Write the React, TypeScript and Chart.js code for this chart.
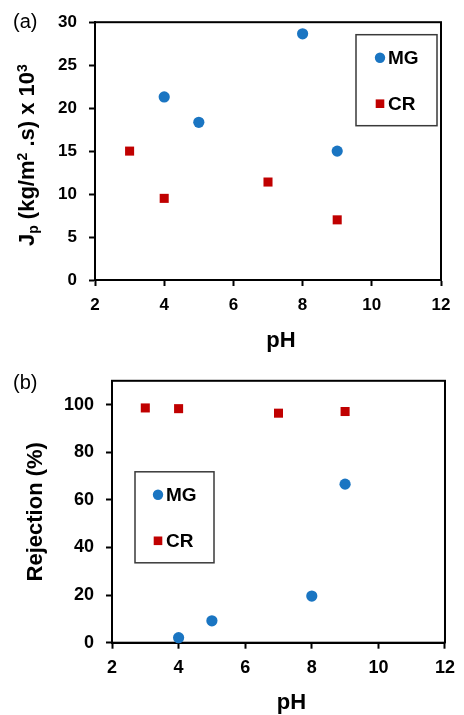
import React, { useEffect, useRef } from "react";
import { Chart, registerables } from "chart.js";

Chart.register(...registerables);

const FONT = '"Liberation Sans", Arial, Helvetica, sans-serif';

// ---- Data: panel (a) permeate flux ----
const phMG_A = [4, 5, 8, 9];
const fluxMG = [21.3, 18.35, 28.65, 15.0];
const phCR_A = [3, 4, 7, 9];
const fluxCR = [15.0, 9.5, 11.4, 7.0];

// ---- Data: panel (b) rejection ----
const phMG_B = [4, 5, 8, 9];
const rejMG = [2.1, 9.2, 19.6, 66.6];
const phCR_B = [3, 4, 7, 9];
const rejCR = [98.6, 98.3, 96.4, 97.1];

// ---- Axis ticks / labels ----
const xTicks = [2, 4, 6, 8, 10, 12];
const yTicksA = [0, 5, 10, 15, 20, 25, 30];
const yTicksB = [0, 20, 40, 60, 80, 100];
const seriesNames = ["MG", "CR"];
const xTitle = "pH";
const yTitleB = "Rejection (%)";
const panelLabels = ["(a)", "(b)"];

const MG_COLOR = "#1a75c2";
const CR_COLOR = "#c00000";

type Piece = { t: string; size: number; dy?: number };

const yTitleA: Piece[] = [
  { t: "J", size: 22 },
  { t: "p", size: 14, dy: 4 },
  { t: " (kg/m", size: 22 },
  { t: "2", size: 14, dy: -7.5 },
  { t: " .s) x 10", size: 22 },
  { t: "3", size: 14, dy: -7.5 },
];

function drawRich(ctx: CanvasRenderingContext2D, pieces: Piece[], baseX: number, cy: number) {
  ctx.save();
  ctx.translate(baseX, cy);
  ctx.rotate(-Math.PI / 2);
  ctx.fillStyle = "#000";
  ctx.textBaseline = "alphabetic";
  ctx.textAlign = "left";
  let total = 0;
  const widths = pieces.map((p) => {
    ctx.font = `bold ${p.size}px ${FONT}`;
    const w = ctx.measureText(p.t).width;
    total += w;
    return w;
  });
  let x = -total / 2;
  pieces.forEach((p, i) => {
    ctx.font = `bold ${p.size}px ${FONT}`;
    ctx.fillText(p.t, x, p.dy || 0);
    x += widths[i];
  });
  ctx.restore();
}

type PanelCfg = {
  height: number;
  padding: { top: number; right: number; left: number; bottom: number };
  yWidth: number;
  xHeight: number;
  yMax: number;
  yTicks: number[];
  tickFont: number;
  tickPadY: number;
  tickPadX: number;
  xTitleBase: number;
  xTitleDx: number;
  yTitle: Piece[];
  yTitleX: number;
  yTitleDy: number;
  legend: { dx: number; dy: number; w: number; h: number; mx: number; r1: number; r2: number; tx: number };
  label: string;
  labelY: number;
  mg: { x: number[]; y: number[] };
  cr: { x: number[]; y: number[] };
};

const panelA: PanelCfg = {
  height: 358,
  padding: { top: 21.5, right: 23, left: 0, bottom: 0 },
  yWidth: 95,
  xHeight: 78,
  yMax: 30,
  yTicks: yTicksA,
  tickFont: 17,
  tickPadY: 12,
  tickPadX: 9,
  xTitleBase: 347,
  xTitleDx: 13,
  yTitle: yTitleA,
  yTitleX: 34,
  yTitleDy: 4,
  legend: { dx: 261, dy: 12.5, w: 81, h: 91, mx: 24, r1: 23, r2: 69, tx: 32 },
  label: panelLabels[0],
  labelY: 22,
  mg: { x: phMG_A, y: fluxMG },
  cr: { x: phCR_A, y: fluxCR },
};

const panelB: PanelCfg = {
  height: 357,
  padding: { top: 22, right: 12, left: 0, bottom: 0 },
  yWidth: 112,
  xHeight: 72.3,
  yMax: 110,
  yTicks: yTicksB,
  tickFont: 18,
  tickPadY: 12,
  tickPadX: 9,
  xTitleBase: 351,
  xTitleDx: 13,
  yTitle: [{ t: yTitleB, size: 22 }],
  yTitleX: 42,
  yTitleDy: 0,
  legend: { dx: 23, dy: 91, w: 79, h: 91, mx: 23, r1: 23, r2: 69, tx: 31 },
  label: panelLabels[1],
  labelY: 25,
  mg: { x: phMG_B, y: rejMG },
  cr: { x: phCR_B, y: rejCR },
};

function makeDecor(cfg: PanelCfg) {
  return {
    id: "decor",
    beforeDatasetsDraw(chart: any) {
      const { ctx, chartArea: ca } = chart;
      ctx.save();
      ctx.strokeStyle = "#000";
      ctx.lineWidth = 2;
      ctx.strokeRect(ca.left, ca.top, ca.right - ca.left, ca.bottom - ca.top);
      ctx.restore();
    },
    afterDraw(chart: any) {
      const { ctx, chartArea: ca } = chart;
      // panel label
      ctx.save();
      ctx.fillStyle = "#000";
      ctx.font = `normal 20px ${FONT}`;
      ctx.textBaseline = "middle";
      ctx.textAlign = "left";
      ctx.fillText(cfg.label, 13, cfg.labelY);
      // x title
      ctx.font = `bold 22px ${FONT}`;
      ctx.textBaseline = "alphabetic";
      ctx.textAlign = "center";
      ctx.fillText(xTitle, (ca.left + ca.right) / 2 + cfg.xTitleDx, cfg.xTitleBase);
      ctx.restore();
      // y title
      drawRich(ctx, cfg.yTitle, cfg.yTitleX, (ca.top + ca.bottom) / 2 + cfg.yTitleDy);
      // legend box
      const L = cfg.legend;
      const bx = ca.left + L.dx;
      const by = ca.top + L.dy;
      ctx.save();
      ctx.fillStyle = "#fff";
      ctx.fillRect(bx, by, L.w, L.h);
      ctx.strokeStyle = "#3a3a3a";
      ctx.lineWidth = 1.5;
      ctx.strokeRect(bx, by, L.w, L.h);
      const rows = [L.r1, L.r2];
      chart.data.datasets.forEach((ds: any, i: number) => {
        const cx = bx + L.mx;
        const cy = by + rows[i];
        ctx.fillStyle = ds.backgroundColor;
        if (ds.pointStyle === "circle") {
          ctx.beginPath();
          ctx.arc(cx, cy, 5.2, 0, Math.PI * 2);
          ctx.fill();
        } else {
          ctx.fillRect(cx - 4.3, cy - 4.3, 8.6, 8.6);
        }
        ctx.fillStyle = "#000";
        ctx.font = `bold 19px ${FONT}`;
        ctx.textBaseline = "middle";
        ctx.textAlign = "left";
        ctx.fillText(ds.label, bx + L.tx, cy + 1);
      });
      ctx.restore();
    },
  };
}

function Panel({ cfg }: { cfg: PanelCfg }) {
  const ref = useRef<HTMLCanvasElement>(null);
  useEffect(() => {
    if (!ref.current) return;
    const tickFont = { family: FONT, size: cfg.tickFont, weight: "bold" as const };
    const chart = new Chart(ref.current, {
      type: "scatter",
      data: {
        datasets: [
          {
            label: seriesNames[0],
            data: cfg.mg.x.map((x, i) => ({ x, y: cfg.mg.y[i] })),
            pointStyle: "circle",
            pointRadius: 5.6,
            pointHoverRadius: 5.6,
            backgroundColor: MG_COLOR,
            borderColor: MG_COLOR,
            borderWidth: 0,
            clip: false as any,
          },
          {
            label: seriesNames[1],
            data: cfg.cr.x.map((x, i) => ({ x, y: cfg.cr.y[i] })),
            pointStyle: "rect",
            pointRadius: 6.4,
            pointHoverRadius: 6.4,
            backgroundColor: CR_COLOR,
            borderColor: CR_COLOR,
            borderWidth: 0,
            clip: false as any,
          },
        ],
      },
      options: {
        responsive: false,
        animation: false,
        devicePixelRatio: 1,
        layout: { padding: cfg.padding },
        plugins: { legend: { display: false }, tooltip: { enabled: false } },
        scales: {
          x: {
            type: "linear",
            min: 2,
            max: 12,
            afterFit: (s: any) => {
              s.height = cfg.xHeight;
            },
            afterBuildTicks: (s: any) => {
              s.ticks = xTicks.map((v) => ({ value: v }));
            },
            ticks: { font: tickFont, color: "#000", padding: cfg.tickPadX, maxRotation: 0 },
            grid: { display: true, drawOnChartArea: false, drawTicks: true, tickLength: 6, tickColor: "#000", tickWidth: 2 },
            border: { display: true, color: "#000", width: 2 },
          },
          y: {
            type: "linear",
            min: 0,
            max: cfg.yMax,
            afterFit: (s: any) => {
              s.width = cfg.yWidth;
            },
            afterBuildTicks: (s: any) => {
              s.ticks = cfg.yTicks.map((v) => ({ value: v }));
            },
            ticks: { font: tickFont, color: "#000", padding: cfg.tickPadY },
            grid: { display: true, drawOnChartArea: false, drawTicks: true, tickLength: 6, tickColor: "#000", tickWidth: 2 },
            border: { display: true, color: "#000", width: 2 },
          },
        },
      },
      plugins: [makeDecor(cfg)],
    });
    return () => chart.destroy();
  }, [cfg]);
  return (
    <canvas
      ref={ref}
      width={464}
      height={cfg.height}
      style={{ display: "block", width: 464, height: cfg.height }}
    />
  );
}

export default function App() {
  return (
    <div style={{ position: "fixed", left: 0, top: 0, width: 464, height: 715, background: "#fff" }}>
      <Panel cfg={panelA} />
      <Panel cfg={panelB} />
    </div>
  );
}
